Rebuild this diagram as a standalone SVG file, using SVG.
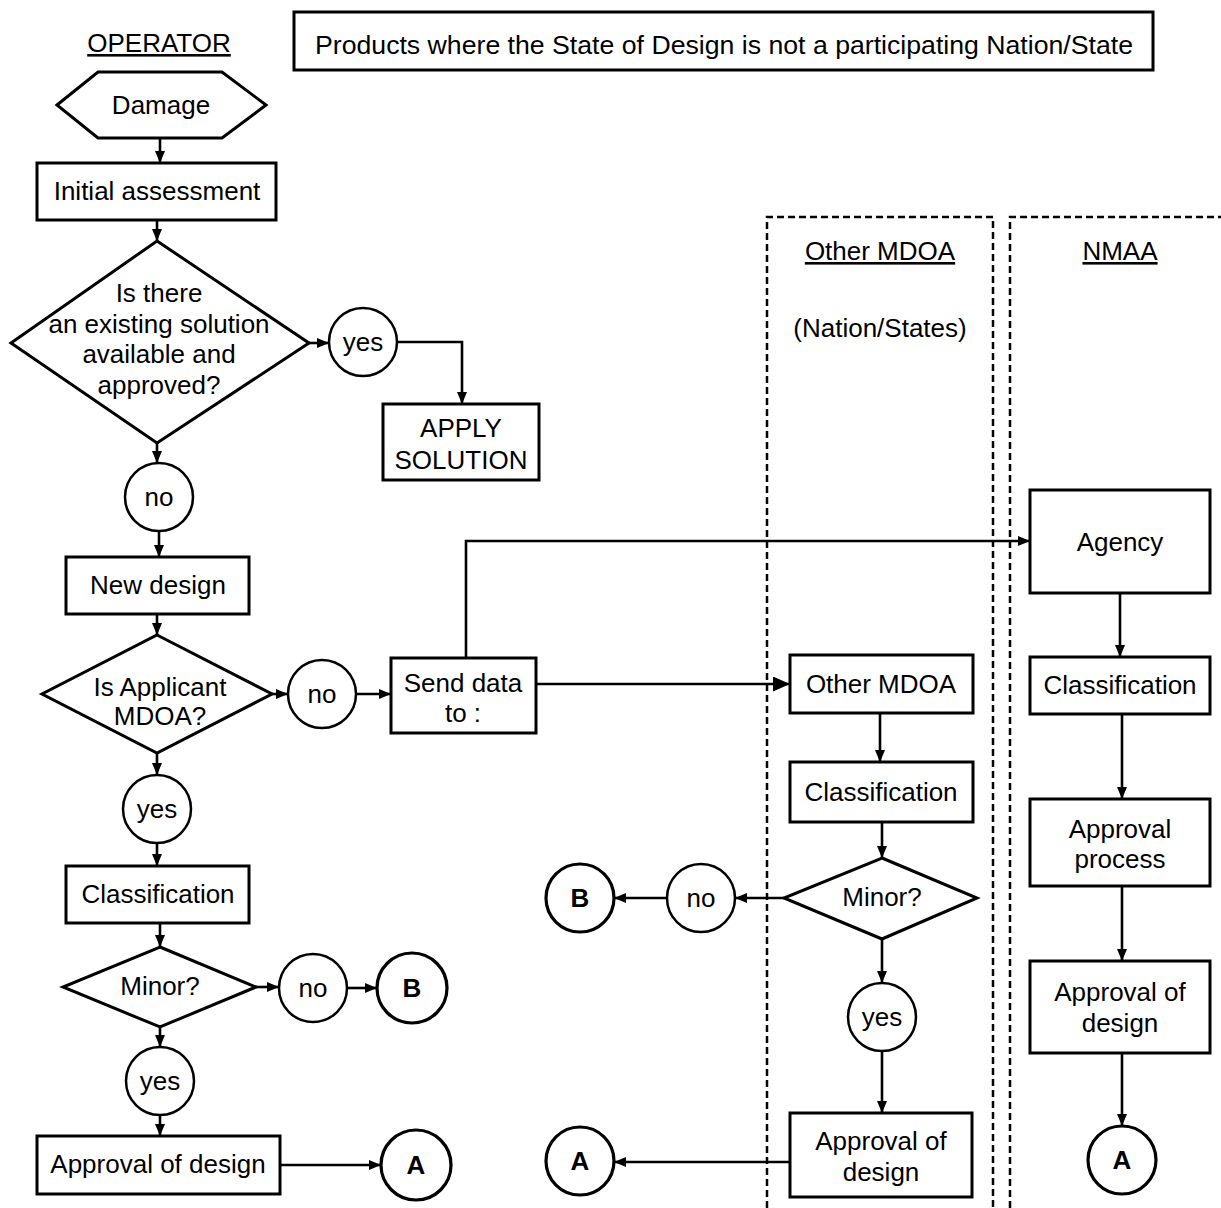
<svg xmlns="http://www.w3.org/2000/svg" width="1221" height="1208" viewBox="0 0 1221 1208">
  <defs>
    <marker id="arr" markerUnits="userSpaceOnUse" markerWidth="12" markerHeight="11" refX="12" refY="5.5" orient="auto">
      <path d="M0,0.5 L12,5.5 L0,10.5 z" fill="#000"/>
    </marker>
    <marker id="arrBig" markerUnits="userSpaceOnUse" markerWidth="17" markerHeight="15" refX="17" refY="7.5" orient="auto">
      <path d="M0,0 L17,7.5 L0,15 z" fill="#000"/>
    </marker>
    <style>
      .box { fill: #fff; stroke: #000; stroke-width: 3; }
      .circ { fill: #fff; stroke: #000; stroke-width: 2.5; }
      .term { stroke-width: 3.2; }
      .conn { fill: none; stroke: #000; stroke-width: 2.6; }
      .lane { fill: none; stroke: #000; stroke-width: 2.5; stroke-dasharray: 7 4; }
      text { font-family: "Liberation Sans", Arial, Helvetica, sans-serif; font-size: 26px; fill: #000; text-anchor: middle; }
      .u { text-decoration: underline; }
      .bold { font-weight: bold; }
    </style>
  </defs>

  <rect width="1221" height="1208" fill="#fff"/>

  <!-- swimlane boundaries -->
  <g id="lanes">
    <path class="lane" d="M767,1208 V217 H993 V1208"/>
    <path class="lane" d="M1010,1208 V217 H1221"/>
    <text class="u" x="159" y="52">OPERATOR</text>
    <text class="u" x="880" y="260">Other MDOA</text>
    <text x="880" y="337">(Nation/States)</text>
    <text class="u" x="1120" y="260">NMAA</text>
  </g>

  <g id="title">
    <rect class="box" x="294" y="12" width="859" height="58"/>
    <text x="724" y="54" textLength="818" lengthAdjust="spacingAndGlyphs">Products where the State of Design is not a participating Nation/State</text>
  </g>

  <!-- connectors -->
  <g id="connectors">
    <path class="conn" d="M160,138 V163" marker-end="url(#arr)"/>
    <path class="conn" d="M157,220 V241" marker-end="url(#arr)"/>
    <path class="conn" d="M309,343 H329" marker-end="url(#arr)"/>
    <path class="conn" d="M397,342 H462 V404" marker-end="url(#arr)"/>
    <path class="conn" d="M157,443 V463" marker-end="url(#arr)"/>
    <path class="conn" d="M159,531 V557" marker-end="url(#arr)"/>
    <path class="conn" d="M157,614 V635" marker-end="url(#arr)"/>
    <path class="conn" d="M272,694 H288" marker-end="url(#arr)"/>
    <path class="conn" d="M356,694 H391" marker-end="url(#arr)"/>
    <path class="conn" d="M466,658 V541 H1030" marker-end="url(#arr)"/>
    <path class="conn" d="M536,684 H790" marker-end="url(#arrBig)"/>
    <path class="conn" d="M157,753 V775" marker-end="url(#arr)"/>
    <path class="conn" d="M157,843 V866" marker-end="url(#arr)"/>
    <path class="conn" d="M160,923 V947" marker-end="url(#arr)"/>
    <path class="conn" d="M256,987 H279" marker-end="url(#arr)"/>
    <path class="conn" d="M347,988 H377" marker-end="url(#arr)"/>
    <path class="conn" d="M160,1027 V1047" marker-end="url(#arr)"/>
    <path class="conn" d="M160,1115 V1136" marker-end="url(#arr)"/>
    <path class="conn" d="M280,1165 H381" marker-end="url(#arr)"/>
    <!-- other MDOA lane -->
    <path class="conn" d="M880,713 V762" marker-end="url(#arr)"/>
    <path class="conn" d="M882,822 V858" marker-end="url(#arr)"/>
    <path class="conn" d="M784,898 H735" marker-end="url(#arr)"/>
    <path class="conn" d="M667,898 H614" marker-end="url(#arr)"/>
    <path class="conn" d="M882,939 V983" marker-end="url(#arr)"/>
    <path class="conn" d="M882,1051 V1113" marker-end="url(#arr)"/>
    <path class="conn" d="M790,1162 H614" marker-end="url(#arr)"/>
    <!-- NMAA lane -->
    <path class="conn" d="M1120,593 V657" marker-end="url(#arr)"/>
    <path class="conn" d="M1122,714 V799" marker-end="url(#arr)"/>
    <path class="conn" d="M1122,886 V961" marker-end="url(#arr)"/>
    <path class="conn" d="M1122,1053 V1126" marker-end="url(#arr)"/>
  </g>

  <!-- operator column -->
  <g id="damage">
    <polygon class="box" points="57,105 98,72 222,72 266,105 222,138 98,138"/>
    <text x="161" y="114">Damage</text>
  </g>
  <g id="initial-assessment">
    <rect class="box" x="37" y="163" width="239" height="57"/>
    <text x="157" y="200">Initial assessment</text>
  </g>
  <g id="existing-solution">
    <polygon class="box" points="157,241 309,343 157,443 11,343"/>
    <text x="159" y="302">Is there</text>
    <text x="159" y="333">an existing solution</text>
    <text x="159" y="363">available and</text>
    <text x="159" y="394">approved?</text>
  </g>
  <g id="yes-1">
    <circle class="circ" cx="363" cy="342" r="34"/>
    <text x="363" y="351">yes</text>
  </g>
  <g id="apply-solution">
    <rect class="box" x="383" y="404" width="156" height="76"/>
    <text x="461" y="437">APPLY</text>
    <text x="461" y="469">SOLUTION</text>
  </g>
  <g id="no-1">
    <circle class="circ" cx="159" cy="497" r="34"/>
    <text x="159" y="506">no</text>
  </g>
  <g id="new-design">
    <rect class="box" x="66" y="557" width="183" height="57"/>
    <text x="158" y="594">New design</text>
  </g>
  <g id="is-applicant-mdoa">
    <polygon class="box" points="157,635 272,694 157,753 42,694"/>
    <text x="160" y="696">Is Applicant</text>
    <text x="160" y="725">MDOA?</text>
  </g>
  <g id="no-2">
    <circle class="circ" cx="322" cy="694" r="34"/>
    <text x="322" y="703">no</text>
  </g>
  <g id="send-data">
    <rect class="box" x="391" y="658" width="145" height="75"/>
    <text x="463" y="692">Send data</text>
    <text x="463" y="722">to :</text>
  </g>
  <g id="yes-2">
    <circle class="circ" cx="157" cy="809" r="34"/>
    <text x="157" y="818">yes</text>
  </g>
  <g id="classification-op">
    <rect class="box" x="66" y="866" width="183" height="57"/>
    <text x="158" y="903">Classification</text>
  </g>
  <g id="minor-op">
    <polygon class="box" points="160,947 256,987 160,1027 63,987"/>
    <text x="160" y="995">Minor?</text>
  </g>
  <g id="no-3">
    <circle class="circ" cx="313" cy="988" r="34"/>
    <text x="313" y="997">no</text>
  </g>
  <g id="b-op">
    <circle class="circ term" cx="412" cy="988" r="35"/>
    <text class="bold" x="412" y="997">B</text>
  </g>
  <g id="yes-3">
    <circle class="circ" cx="160" cy="1081" r="34"/>
    <text x="160" y="1090">yes</text>
  </g>
  <g id="approval-op">
    <rect class="box" x="37" y="1136" width="243" height="58"/>
    <text x="158" y="1173">Approval of design</text>
  </g>
  <g id="a-op">
    <circle class="circ term" cx="416" cy="1165" r="35"/>
    <text class="bold" x="416" y="1174">A</text>
  </g>

  <!-- other MDOA column -->
  <g id="other-mdoa">
    <rect class="box" x="790" y="655" width="183" height="58"/>
    <text x="881" y="693">Other MDOA</text>
  </g>
  <g id="classification-mdoa">
    <rect class="box" x="790" y="762" width="183" height="60"/>
    <text x="881" y="801">Classification</text>
  </g>
  <g id="minor-mdoa">
    <polygon class="box" points="882,858 977,898 882,939 784,898"/>
    <text x="882" y="906">Minor?</text>
  </g>
  <g id="no-4">
    <circle class="circ" cx="701" cy="898" r="34"/>
    <text x="701" y="907">no</text>
  </g>
  <g id="b-mdoa">
    <circle class="circ term" cx="580" cy="898" r="34"/>
    <text class="bold" x="580" y="907">B</text>
  </g>
  <g id="yes-4">
    <circle class="circ" cx="882" cy="1017" r="34"/>
    <text x="882" y="1026">yes</text>
  </g>
  <g id="approval-mdoa">
    <rect class="box" x="790" y="1113" width="182" height="84"/>
    <text x="881" y="1150">Approval of</text>
    <text x="881" y="1181">design</text>
  </g>
  <g id="a-mdoa">
    <circle class="circ term" cx="580" cy="1161" r="34"/>
    <text class="bold" x="580" y="1170">A</text>
  </g>

  <!-- NMAA column -->
  <g id="agency">
    <rect class="box" x="1030" y="490" width="180" height="103"/>
    <text x="1120" y="551">Agency</text>
  </g>
  <g id="classification-nmaa">
    <rect class="box" x="1030" y="657" width="180" height="57"/>
    <text x="1120" y="694">Classification</text>
  </g>
  <g id="approval-process">
    <rect class="box" x="1030" y="799" width="180" height="87"/>
    <text x="1120" y="838">Approval</text>
    <text x="1120" y="868">process</text>
  </g>
  <g id="approval-nmaa">
    <rect class="box" x="1030" y="961" width="180" height="92"/>
    <text x="1120" y="1001">Approval of</text>
    <text x="1120" y="1032">design</text>
  </g>
  <g id="a-nmaa">
    <circle class="circ term" cx="1122" cy="1160" r="34"/>
    <text class="bold" x="1122" y="1169">A</text>
  </g>
</svg>
